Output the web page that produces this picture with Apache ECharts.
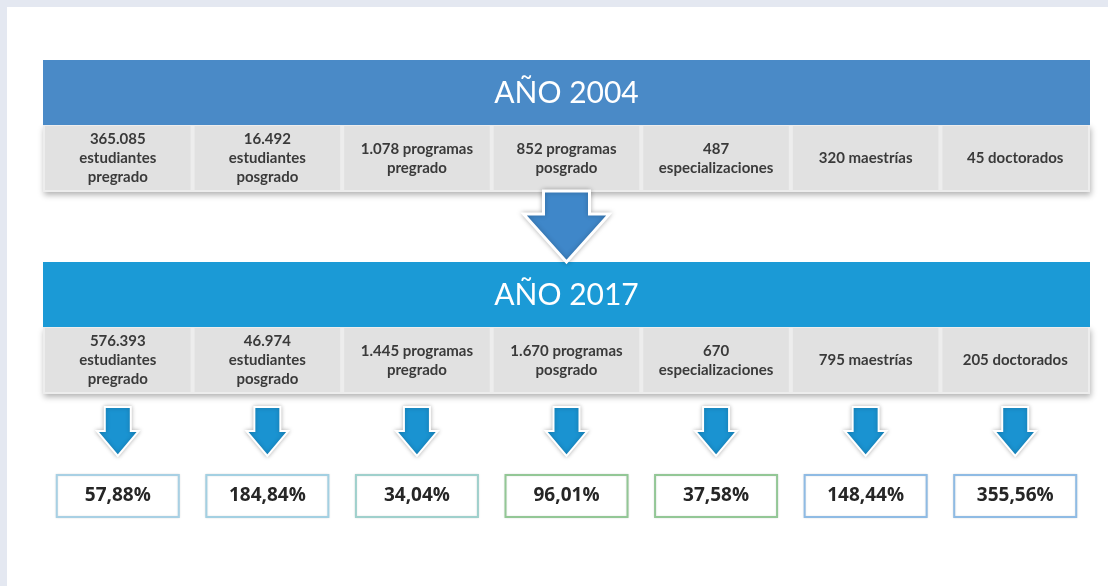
<!DOCTYPE html>
<html>
<head>
<meta charset="utf-8">
<script src="https://cdn.jsdelivr.net/npm/echarts@6/dist/echarts.min.js"></script>
<style>
html, body { margin: 0; padding: 0; }
#main { width: 1108px; height: 586px; }
</style>
</head>
<body>
<div id="main"></div>
<script>
var myChart = echarts.init(document.getElementById('main'), null, { renderer: 'canvas' });

// datos
var categories = ['estudiantes pregrado', 'estudiantes posgrado', 'programas pregrado', 'programas posgrado', 'especializaciones', 'maestrías', 'doctorados'];
var years = ['AÑO 2004', 'AÑO 2017'];
var labels2004 = ['365.085\nestudiantes\npregrado', '16.492\nestudiantes\nposgrado', '1.078 programas\npregrado', '852 programas\nposgrado', '487\nespecializaciones', '320 maestrías', '45 doctorados'];
var labels2017 = ['576.393\nestudiantes\npregrado', '46.974\nestudiantes\nposgrado', '1.445 programas\npregrado', '1.670 programas\nposgrado', '670\nespecializaciones', '795 maestrías', '205 doctorados'];
var growth = [57.88, 184.84, 34.04, 96.01, 37.58, 148.44, 355.56];

// estilos
var headerColors = ['#4a8ac7', '#1b9ad6'];
var boxBorders = ['#a8d0e4', '#a3d0e2', '#9fd0cc', '#93c796', '#93c796', '#8fbbe4', '#8fbbe4'];
var blockTop = [60, 262];   // y de cada bloque
var headerH = 65, rowH = 67;

function fmtPct(v) {
    return v.toFixed(2).replace('.', ',') + '%';
}

var option = {
    backgroundColor: '#e4e8f1',
    animation: false,
    graphic: [{
        type: 'rect',
        z: -10,
        shape: { x: 7, y: 7, width: 1101, height: 579 },
        style: { fill: '#ffffff' }
    }],
    grid: { left: 43, right: 18, top: 0, bottom: 0 },
    xAxis: {
        type: 'category',
        data: categories,
        show: false
    },
    yAxis: {
        type: 'value',
        min: 0,
        max: 586,
        inverse: true,
        show: false
    },
    series: [{
        // cabeceras AÑO + fondo gris de la fila
        name: 'bloques',
        type: 'custom',
        data: years.map(function (y, i) { return [0, i]; }),
        renderItem: function (params, api) {
            var i = api.value(1);
            var band = api.size([1, 0])[0];
            var x0 = api.coord([0, 0])[0] - band / 2;
            var x1 = api.coord([categories.length - 1, 0])[0] + band / 2;
            var top = api.coord([0, blockTop[i]])[1];
            var cx = (x0 + x1) / 2;
            var children = [{
                type: 'rect',
                shape: { x: x0, y: top + headerH, width: x1 - x0, height: rowH },
                style: { fill: '#ededed', shadowBlur: 6, shadowOffsetY: 3, shadowOffsetX: 1, shadowColor: 'rgba(0,0,0,0.3)' }
            }, {
                type: 'rect',
                shape: { x: x0, y: top, width: x1 - x0, height: headerH },
                style: { fill: headerColors[i] }
            }, {
                type: 'text',
                style: {
                    text: years[i], x: cx, y: top + headerH / 2 + 1,
                    align: 'center', verticalAlign: 'middle',
                    fontFamily: 'Lato', fontSize: 30, fill: '#ffffff'
                }
            }];
            if (i === 0) {
                // flecha grande entre los dos bloques
                var y0 = top + headerH + rowH - 1;
                var yTip = api.coord([0, blockTop[1]])[1];
                var yHead = y0 + 23;
                children.push({
                    type: 'polygon',
                    z2: 5,
                    shape: {
                        points: [[cx - 23, y0], [cx + 23, y0], [cx + 23, yHead], [cx + 43, yHead],
                            [cx, yTip], [cx - 43, yHead], [cx - 23, yHead]]
                    },
                    style: { fill: '#3f87c9', stroke: '#ffffff', lineWidth: 3, shadowBlur: 5, shadowColor: 'rgba(0,0,0,0.25)' }
                });
            }
            return { type: 'group', children: children };
        }
    }, {
        // celdas, flechas y porcentajes por columna
        name: 'columnas',
        type: 'custom',
        data: categories.map(function (c, i) { return [i, growth[i]]; }),
        renderItem: function (params, api) {
            var idx = params.dataIndex;
            var band = api.size([1, 0])[0];
            var cx = api.coord([api.value(0), 0])[0];
            var children = [];
            [labels2004, labels2017].forEach(function (labels, k) {
                var top = api.coord([0, blockTop[k]])[1] + headerH;
                children.push({
                    type: 'rect',
                    shape: { x: cx - band / 2 + 2, y: top + 1, width: band - 4, height: rowH - 3 },
                    style: { fill: '#e1e1e1' }
                });
                children.push({
                    type: 'text',
                    style: {
                        text: labels[idx], x: cx, y: top + rowH / 2,
                        align: 'center', verticalAlign: 'middle',
                        fontFamily: 'Lato', fontWeight: 'bold', fontSize: 15, lineHeight: 19, fill: '#3a3a3a'
                    }
                });
            });
            // flecha pequeña
            var ya = api.coord([0, 407])[1];
            var yh = api.coord([0, 431])[1];
            var yt = api.coord([0, 456])[1];
            children.push({
                type: 'polygon',
                shape: {
                    points: [[cx - 13, ya], [cx + 13, ya], [cx + 13, yh], [cx + 21, yh],
                        [cx, yt], [cx - 21, yh], [cx - 13, yh]]
                },
                style: { fill: '#1a93d1', stroke: '#ffffff', lineWidth: 2, shadowBlur: 4, shadowColor: 'rgba(0,0,0,0.25)' }
            });
            // caja de porcentaje
            var by = api.coord([0, 475])[1];
            var bh = api.coord([0, 517])[1] - by;
            children.push({
                type: 'rect',
                shape: { x: cx - 61, y: by, width: 122, height: bh },
                style: { fill: '#ffffff', stroke: boxBorders[idx], lineWidth: 2, shadowBlur: 2, shadowColor: 'rgba(0,0,0,0.12)' }
            });
            children.push({
                type: 'text',
                style: {
                    text: fmtPct(api.value(1)), x: cx, y: by + bh / 2,
                    align: 'center', verticalAlign: 'middle',
                    fontFamily: 'Open Sans', fontWeight: 'bold', fontSize: 19, fill: '#262626'
                }
            });
            return { type: 'group', children: children };
        }
    }]
};

myChart.setOption(option);
window.addEventListener('resize', myChart.resize);
</script>
</body>
</html>
